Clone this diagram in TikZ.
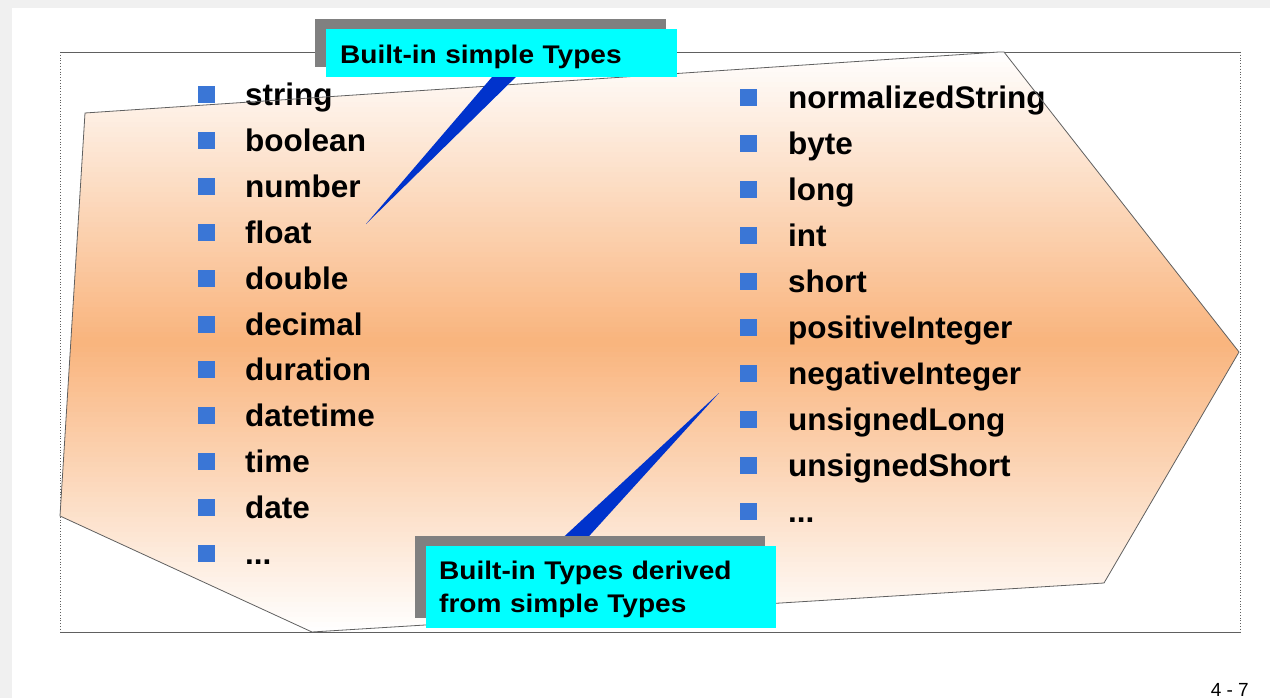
\documentclass[tikz,border=0pt]{standalone}
\usepackage{fontspec}
\setmainfont{Liberation Sans}
\newfontfamily\listfont{Liberation Sans}[FakeStretch=1.01]
\newfontfamily\calloutfont{Liberation Sans}[FakeStretch=1.1]
\usetikzlibrary{shadows}

\definecolor{pagegray}{HTML}{F0F0F0}
\definecolor{peach}{HTML}{F9B47D}
\definecolor{bulletblue}{HTML}{3A76D6}
\definecolor{wedgeblue}{HTML}{0033CC}
\definecolor{shadowgray}{HTML}{808080}
\definecolor{calloutcyan}{HTML}{00FFFF}
\definecolor{edgegray}{HTML}{606060}

% three full stops, kept out of \foreach's range syntax
\newcommand\moreitems{...}

\tikzset{
  bulletsq/.style={rectangle, fill=bulletblue, minimum size=17pt, inner sep=0pt},
  item/.style={anchor=base west, inner sep=0pt, font=\listfont\bfseries\fontsize{31.2}{36}\selectfont},
  callout/.style={anchor=north west, fill=calloutcyan, inner ysep=0pt, align=left,
    general shadow={fill=shadowgray, shadow xshift=-11pt, shadow yshift=10pt},
    font=\calloutfont\bfseries\fontsize{25.5}{33}\selectfont},
  edge/.style={draw=edgegray, line width=0.8pt},
  wedge/.style={fill=wedgeblue},
}

\begin{document}
\begin{tikzpicture}[x=1pt, y=-1pt]
  % page background with its grey margin
  \fill[pagegray] (0,0) rectangle (1270,698);
  \fill[white] (12,8) rectangle (1270,698);
  \useasboundingbox (0,0) rectangle (1270,698);

  % slide frame
  \draw[edge] (60,52) -- (1240,52);
  \draw[edge] (60,632) -- (1240,632);
  \draw[edge, dotted] (60,52) -- (60,632);
  \draw[edge, dotted] (1240,52) -- (1240,632);

  % arrow-like polygon behind the lists
  \coordinate (pA) at (85,113);
  \coordinate (pB) at (999,52);
  \coordinate (pC) at (1004,52);
  \coordinate (pD) at (1239,352);
  \coordinate (pE) at (1104,583);
  \coordinate (pF) at (312,632);
  \coordinate (pG) at (60,516);

  % white - peach - white vertical gradient, built from thin bands
  \begin{scope}
    \clip (pA) -- (pB) -- (pC) -- (pD) -- (pE) -- (pF) -- (pG) -- cycle;
    \foreach \k in {0,...,115} {
      \pgfmathsetmacro\ytop{52+5*\k}
      \pgfmathsetmacro\amt{max(0,100*(1-abs(\ytop+2.5-342)/290))}
      \fill[peach!\amt!white] (55,\ytop) rectangle (1245,\ytop+5.6);
    }
  \end{scope}

  % simple types
  \foreach \name [count=\i from 0] in
    {string, boolean, number, float, double, decimal, duration, datetime, time, date, \moreitems} {
    \node[bulletsq] (lb\i) at (206, 95+45.8*\i) {};
    \node[item] (lt\i) at (245, 106+45.8*\i) {\name};
  }

  % derived types
  \foreach \name [count=\i from 0] in
    {normalizedString, byte, long, int, short, positiveInteger, negativeInteger,
     unsignedLong, unsignedShort, \moreitems} {
    \node[bulletsq] (rb\i) at (748.5, 98+45.9*\i) {};
    \node[item] (rt\i) at (788, 109+45.9*\i) {\name};
  }

  \draw[edge] (pA) -- (pB) -- (pC) -- (pD) -- (pE) -- (pF) -- (pG) -- cycle;

  % callout pointers
  \coordinate (w1l) at (498,70);
  \coordinate (w1r) at (523,70);
  \coordinate (tip1) at (366,224);
  \fill[wedge] (w1l) -- (w1r) -- (tip1) -- cycle;

  \coordinate (w2l) at (555,545);
  \coordinate (w2r) at (581,545);
  \coordinate (tip2) at (719,393);
  \fill[wedge] (w2l) -- (w2r) -- (tip2) -- cycle;

  % callouts
  \node[callout, text width=323pt, inner xsep=14pt, text height=34pt, text depth=14pt]
    (simple) at (326,29) {Built-in simple Types};
  \node[callout, text width=324pt, inner xsep=13pt, text height=33pt, text depth=49pt]
    (derived) at (426,546) {Built-in Types derived\\from simple Types};

  % page number
  \node[anchor=base east, inner sep=0pt, font=\fontsize{19}{22}\selectfont]
    (pagenum) at (1249,696) {4 - 7};
\end{tikzpicture}
\end{document}
